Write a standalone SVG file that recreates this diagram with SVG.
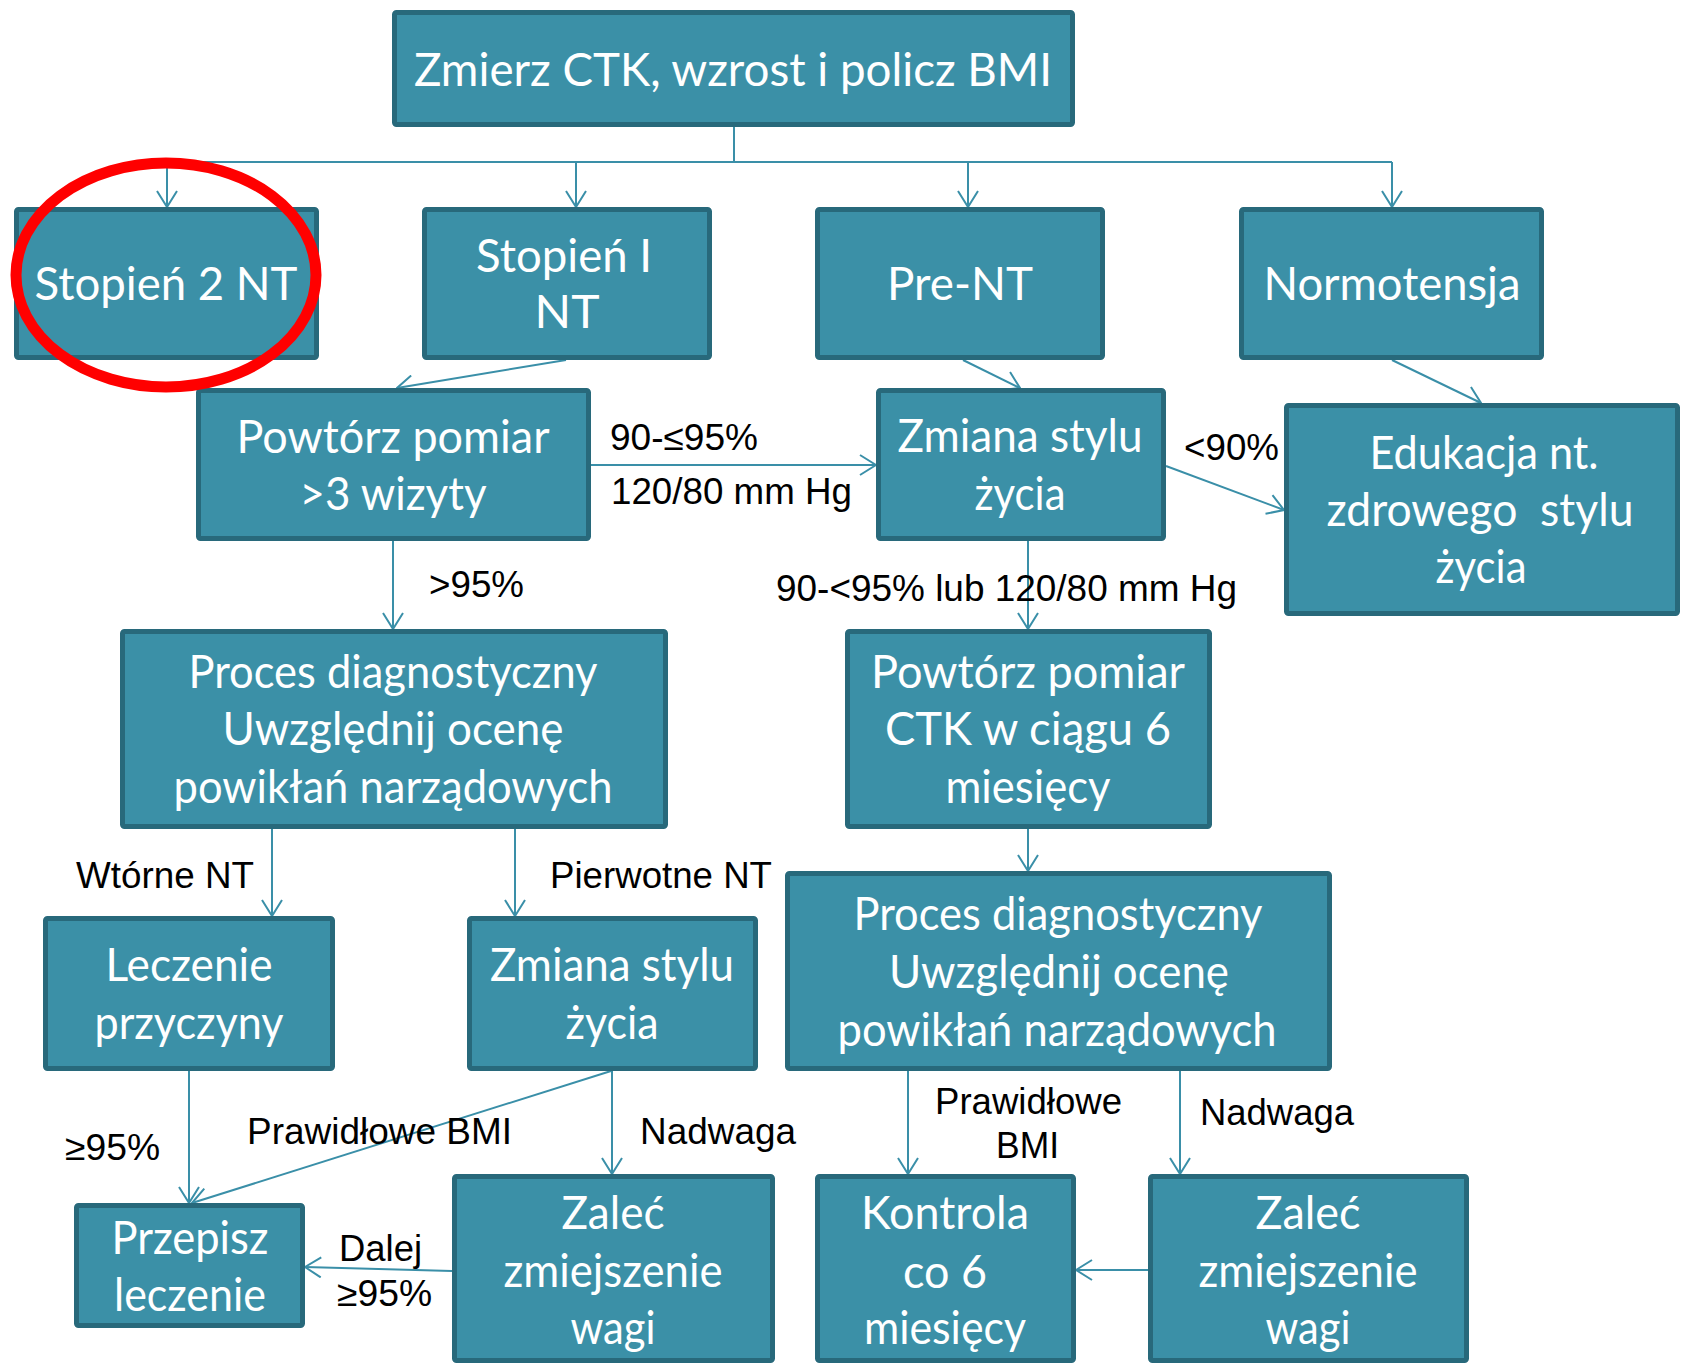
<svg xmlns="http://www.w3.org/2000/svg" width="1689" height="1364" viewBox="0 0 1689 1364">
<defs>
<style>
.box{fill:#3B90A7;stroke:#28697B;stroke-width:5}
.nt{font-family:Lato,"Open Sans","Noto Sans",sans-serif;font-size:46px;fill:#FFFFFF;text-anchor:middle}
.lb{font-family:"Liberation Sans",Arial,sans-serif;font-size:36px;fill:#000000}
.cn{fill:none;stroke:#3A8FA8;stroke-width:2}
</style>
<marker id="ah" viewBox="0 0 18 22" refX="17" refY="11" markerWidth="18" markerHeight="22" markerUnits="userSpaceOnUse" orient="auto">
<path d="M1,1 L17,11 L1,21" fill="none" stroke="#3A8FA8" stroke-width="2"/>
</marker>
</defs>
<rect width="1689" height="1364" fill="#FFFFFF"/>

<g id="connectors" class="cn">
<path d="M734,127 V162 M167,162 H1392"/>
<path d="M167,162 V207" marker-end="url(#ah)"/>
<path d="M576,162 V207" marker-end="url(#ah)"/>
<path d="M968,162 V207" marker-end="url(#ah)"/>
<path d="M1392,162 V207" marker-end="url(#ah)"/>
<path d="M566,360 L397,388" marker-end="url(#ah)"/>
<path d="M963,360 L1020,388" marker-end="url(#ah)"/>
<path d="M1392,360 L1481,403" marker-end="url(#ah)"/>
<path d="M591,465 H876" marker-end="url(#ah)"/>
<path d="M1166,466 L1284,510" marker-end="url(#ah)"/>
<path d="M393,541 V629" marker-end="url(#ah)"/>
<path d="M1028,541 V629" marker-end="url(#ah)"/>
<path d="M272,829 V916" marker-end="url(#ah)"/>
<path d="M515,829 V916" marker-end="url(#ah)"/>
<path d="M1028,829 V871" marker-end="url(#ah)"/>
<path d="M189,1071 V1203" marker-end="url(#ah)"/>
<path d="M611,1071 L192,1203" marker-end="url(#ah)"/>
<path d="M612,1071 V1174" marker-end="url(#ah)"/>
<path d="M452,1271 L305,1267" marker-end="url(#ah)"/>
<path d="M908,1071 V1174" marker-end="url(#ah)"/>
<path d="M1180,1071 V1174" marker-end="url(#ah)"/>
<path d="M1148,1270 H1076" marker-end="url(#ah)"/>
</g>

<g id="n-top"><rect class="box" x="394.5" y="12.5" width="678" height="112" rx="2"/>
<text class="nt" x="733" y="86" textLength="638" lengthAdjust="spacingAndGlyphs">Zmierz CTK, wzrost i policz BMI</text></g>

<g id="n-stopien2"><rect class="box" x="16.5" y="209.5" width="300" height="148" rx="2"/>
<text class="nt" x="166" y="300" textLength="263" lengthAdjust="spacingAndGlyphs">Stopień 2 NT</text></g>

<g id="n-stopien1"><rect class="box" x="424.5" y="209.5" width="285" height="148" rx="2"/>
<text class="nt" x="564" y="272" textLength="176" lengthAdjust="spacingAndGlyphs">Stopień I</text>
<text class="nt" x="567" y="328" textLength="65" lengthAdjust="spacingAndGlyphs">NT</text></g>

<g id="n-prent"><rect class="box" x="817.5" y="209.5" width="285" height="148" rx="2"/>
<text class="nt" x="960" y="300" textLength="146" lengthAdjust="spacingAndGlyphs">Pre-NT</text></g>

<g id="n-normo"><rect class="box" x="1241.5" y="209.5" width="300" height="148" rx="2"/>
<text class="nt" x="1392" y="300" textLength="257" lengthAdjust="spacingAndGlyphs">Normotensja</text></g>

<g id="n-powtorz"><rect class="box" x="198.5" y="390.5" width="390" height="148" rx="2"/>
<text class="nt" x="393" y="453" textLength="313" lengthAdjust="spacingAndGlyphs">Powtórz pomiar</text>
<text class="nt" x="393" y="510" textLength="187" lengthAdjust="spacingAndGlyphs">&gt;3 wizyty</text></g>

<g id="n-zmiana1"><rect class="box" x="878.5" y="390.5" width="285" height="148" rx="2"/>
<text class="nt" x="1020" y="452" textLength="245" lengthAdjust="spacingAndGlyphs">Zmiana stylu</text>
<text class="nt" x="1020" y="510" textLength="91" lengthAdjust="spacingAndGlyphs">życia</text></g>

<g id="n-edukacja"><rect class="box" x="1286.5" y="405.5" width="391" height="208" rx="2"/>
<text class="nt" x="1484" y="469" textLength="229" lengthAdjust="spacingAndGlyphs">Edukacja nt.</text>
<text class="nt" x="1480" y="526" textLength="307" lengthAdjust="spacingAndGlyphs" style="white-space:pre">zdrowego  stylu</text>
<text class="nt" x="1481" y="583" textLength="91" lengthAdjust="spacingAndGlyphs">życia</text></g>

<g id="n-procesL"><rect class="box" x="122.5" y="631.5" width="543" height="195" rx="2"/>
<text class="nt" x="393" y="688" textLength="409" lengthAdjust="spacingAndGlyphs">Proces diagnostyczny</text>
<text class="nt" x="393" y="745" textLength="341" lengthAdjust="spacingAndGlyphs">Uwzględnij ocenę</text>
<text class="nt" x="393" y="803" textLength="439" lengthAdjust="spacingAndGlyphs">powikłań narządowych</text></g>

<g id="n-powtorzCTK"><rect class="box" x="847.5" y="631.5" width="362" height="195" rx="2"/>
<text class="nt" x="1028" y="688" textLength="314" lengthAdjust="spacingAndGlyphs">Powtórz pomiar</text>
<text class="nt" x="1028" y="745" textLength="286" lengthAdjust="spacingAndGlyphs">CTK w ciągu 6</text>
<text class="nt" x="1028" y="803" textLength="165" lengthAdjust="spacingAndGlyphs">miesięcy</text></g>

<g id="n-leczenie"><rect class="box" x="45.5" y="918.5" width="287" height="150" rx="2"/>
<text class="nt" x="189" y="981" textLength="167" lengthAdjust="spacingAndGlyphs">Leczenie</text>
<text class="nt" x="189" y="1039" textLength="189" lengthAdjust="spacingAndGlyphs">przyczyny</text></g>

<g id="n-zmiana2"><rect class="box" x="469.5" y="918.5" width="286" height="150" rx="2"/>
<text class="nt" x="612" y="981" textLength="244" lengthAdjust="spacingAndGlyphs">Zmiana stylu</text>
<text class="nt" x="612" y="1039" textLength="93" lengthAdjust="spacingAndGlyphs">życia</text></g>

<g id="n-procesR"><rect class="box" x="787.5" y="873.5" width="542" height="195" rx="2"/>
<text class="nt" x="1058" y="930" textLength="409" lengthAdjust="spacingAndGlyphs">Proces diagnostyczny</text>
<text class="nt" x="1059" y="988" textLength="340" lengthAdjust="spacingAndGlyphs">Uwzględnij ocenę</text>
<text class="nt" x="1057" y="1046" textLength="439" lengthAdjust="spacingAndGlyphs">powikłań narządowych</text></g>

<g id="n-przepisz"><rect class="box" x="76.5" y="1205.5" width="226" height="120" rx="2"/>
<text class="nt" x="190" y="1254" textLength="157" lengthAdjust="spacingAndGlyphs">Przepisz</text>
<text class="nt" x="190" y="1311" textLength="152" lengthAdjust="spacingAndGlyphs">leczenie</text></g>

<g id="n-zalecL"><rect class="box" x="454.5" y="1176.5" width="318" height="184" rx="2"/>
<text class="nt" x="613" y="1229" textLength="103" lengthAdjust="spacingAndGlyphs">Zaleć</text>
<text class="nt" x="613" y="1287" textLength="219" lengthAdjust="spacingAndGlyphs">zmiejszenie</text>
<text class="nt" x="613" y="1344" textLength="85" lengthAdjust="spacingAndGlyphs">wagi</text></g>

<g id="n-kontrola"><rect class="box" x="817.5" y="1176.5" width="256" height="184" rx="2"/>
<text class="nt" x="945" y="1229" textLength="168" lengthAdjust="spacingAndGlyphs">Kontrola</text>
<text class="nt" x="945" y="1288" textLength="84" lengthAdjust="spacingAndGlyphs">co 6</text>
<text class="nt" x="945" y="1344" textLength="162" lengthAdjust="spacingAndGlyphs">miesięcy</text></g>

<g id="n-zalecR"><rect class="box" x="1150.5" y="1176.5" width="316" height="184" rx="2"/>
<text class="nt" x="1308" y="1229" textLength="105" lengthAdjust="spacingAndGlyphs">Zaleć</text>
<text class="nt" x="1308" y="1287" textLength="219" lengthAdjust="spacingAndGlyphs">zmiejszenie</text>
<text class="nt" x="1308" y="1344" textLength="85" lengthAdjust="spacingAndGlyphs">wagi</text></g>

<g id="labels">
<text class="lb" x="610" y="450" textLength="148" lengthAdjust="spacingAndGlyphs">90-≤95%</text>
<text class="lb" x="611" y="504" textLength="241" lengthAdjust="spacingAndGlyphs">120/80 mm Hg</text>
<text class="lb" x="1184" y="460" textLength="95" lengthAdjust="spacingAndGlyphs">&lt;90%</text>
<text class="lb" x="429" y="597" textLength="95" lengthAdjust="spacingAndGlyphs">&gt;95%</text>
<text class="lb" x="776" y="601" textLength="461" lengthAdjust="spacingAndGlyphs">90-&lt;95% lub 120/80 mm Hg</text>
<text class="lb" x="76" y="888" textLength="178" lengthAdjust="spacingAndGlyphs">Wtórne NT</text>
<text class="lb" x="550" y="888" textLength="222" lengthAdjust="spacingAndGlyphs">Pierwotne NT</text>
<text class="lb" x="65" y="1160" textLength="95" lengthAdjust="spacingAndGlyphs">≥95%</text>
<text class="lb" x="247" y="1144" textLength="265" lengthAdjust="spacingAndGlyphs">Prawidłowe BMI</text>
<text class="lb" x="640" y="1144" textLength="156" lengthAdjust="spacingAndGlyphs">Nadwaga</text>
<text class="lb" x="339" y="1261" textLength="83" lengthAdjust="spacingAndGlyphs">Dalej</text>
<text class="lb" x="337" y="1306" textLength="95" lengthAdjust="spacingAndGlyphs">≥95%</text>
<text class="lb" x="935" y="1114" textLength="187" lengthAdjust="spacingAndGlyphs">Prawidłowe</text>
<text class="lb" x="996" y="1158" textLength="63" lengthAdjust="spacingAndGlyphs">BMI</text>
<text class="lb" x="1200" y="1125" textLength="154" lengthAdjust="spacingAndGlyphs">Nadwaga</text>
</g>

<ellipse id="highlight" cx="166" cy="275" rx="150" ry="112" fill="none" stroke="#FF0000" stroke-width="11"/>
</svg>
